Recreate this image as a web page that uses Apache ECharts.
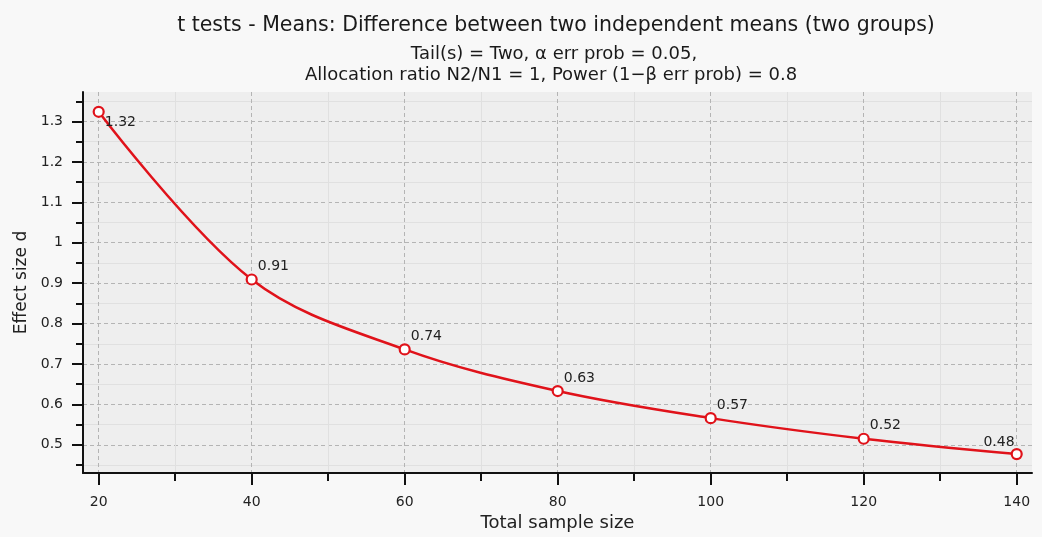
<!DOCTYPE html>
<html>
<head>
<meta charset="utf-8">
<script src="https://cdn.jsdelivr.net/npm/echarts@6/dist/echarts.min.js"></script>
<style>
html,body{margin:0;padding:0;background:#f8f8f8;}
#chart{width:1042px;height:537px;}
</style>
</head>
<body>
<div id="chart"></div>
<script>
const titleText = 't tests - Means: Difference between two independent means (two groups)';
const subtitleLine1 = 'Tail(s) = Two, α err prob = 0.05,';
const subtitleLine2 = 'Allocation ratio N2/N1 = 1, Power (1−β err prob) = 0.8';
const xAxisName = 'Total sample size';
const yAxisName = 'Effect size d';

const sampleSizes = [20, 40, 60, 80, 100, 120, 140];
const effectSizes = [1.324, 0.909, 0.736, 0.633, 0.566, 0.515, 0.477];

const xMajorTicks = [20, 40, 60, 80, 100, 120, 140];
const xMinorTicks = [30, 50, 70, 90, 110, 130];
const yMajorTicks = [0.5, 0.6, 0.7, 0.8, 0.9, 1.0, 1.1, 1.2, 1.3];
const yMinorTicks = [0.45, 0.55, 0.65, 0.75, 0.85, 0.95, 1.05, 1.15, 1.25, 1.35];

const X_MIN = 17.95, X_MAX = 142;
const Y_MIN = 0.43, Y_MAX = 1.373;

const FONT = 'DejaVu Sans';
const RED = '#e0121a';

const chart = echarts.init(document.getElementById('chart'), null, {renderer: 'canvas'});

function labelFor(i) {
  if (i === 0) return {position: 'right', distance: 0, offset: [0, 11]};
  if (i === sampleSizes.length - 1) return {position: 'left', distance: 0, offset: [4, -12]};
  return {position: 'right', distance: 0, offset: [0, -13]};
}

const seriesData = sampleSizes.map((x, i) => ({
  value: [x, effectSizes[i]],
  label: labelFor(i)
}));

const fmtX = v => String(v);
const fmtY = v => {
  const r = Math.round(v * 10) / 10;
  return (r === 1) ? '1' : r.toFixed(1);
};

chart.setOption({
  backgroundColor: '#f8f8f8',
  animation: false,
  title: [
    {text: titleText, left: 556, top: 15, textAlign: 'center', padding: 0,
     textStyle: {fontFamily: FONT, fontSize: 20.5, fontWeight: 'normal', color: '#1a1a1a'}},
    {text: subtitleLine1, left: 554, top: 45, textAlign: 'center', padding: 0,
     textStyle: {fontFamily: FONT, fontSize: 18, fontWeight: 'normal', color: '#1a1a1a'}},
    {text: subtitleLine2, left: 551, top: 66, textAlign: 'center', padding: 0,
     textStyle: {fontFamily: FONT, fontSize: 18, fontWeight: 'normal', color: '#1a1a1a'}}
  ],
  grid: {left: 83, right: 10, top: 92, bottom: 63, show: true, backgroundColor: '#eeeeee', borderWidth: 0},
  xAxis: [
    {
      type: 'value', min: X_MIN, max: X_MAX, position: 'bottom',
      name: xAxisName, nameLocation: 'middle', nameGap: 39,
      nameTextStyle: {fontFamily: FONT, fontSize: 18, color: '#222'},
      axisLine: {show: true, onZero: false, lineStyle: {color: '#111', width: 2}},
      axisTick: {show: true, customValues: xMajorTicks, length: 12, lineStyle: {color: '#111', width: 2}},
      axisLabel: {show: true, customValues: xMajorTicks, formatter: fmtX, margin: 22,
                  fontFamily: FONT, fontSize: 14, color: '#222'},
      splitLine: {show: true, lineStyle: {color: '#b4b4b4', type: [4, 3], width: 1}}
    },
    {
      type: 'value', min: X_MIN, max: X_MAX, position: 'bottom',
      axisLine: {show: false, onZero: false},
      axisTick: {show: true, customValues: xMinorTicks, length: 8, lineStyle: {color: '#111', width: 2}},
      axisLabel: {show: false},
      splitLine: {show: true, lineStyle: {color: '#e0e0e0', width: 1}}
    }
  ],
  yAxis: [
    {
      type: 'value', min: Y_MIN, max: Y_MAX, position: 'left',
      name: yAxisName, nameLocation: 'middle', nameGap: 51,
      nameTextStyle: {fontFamily: FONT, fontSize: 17, color: '#222'},
      axisLine: {show: true, onZero: false, lineStyle: {color: '#111', width: 2}},
      axisTick: {show: true, customValues: yMajorTicks, length: 11, lineStyle: {color: '#111', width: 2}},
      axisLabel: {show: true, customValues: yMajorTicks, formatter: fmtY, margin: 20,
                  fontFamily: FONT, fontSize: 14, color: '#222'},
      splitLine: {show: true, lineStyle: {color: '#b4b4b4', type: [4, 3], width: 1}}
    },
    {
      type: 'value', min: Y_MIN, max: Y_MAX, position: 'left',
      axisLine: {show: false, onZero: false},
      axisTick: {show: true, customValues: yMinorTicks, length: 7, lineStyle: {color: '#111', width: 2}},
      axisLabel: {show: false},
      splitLine: {show: true, lineStyle: {color: '#e0e0e0', width: 1}}
    }
  ],
  series: [{
    type: 'line',
    xAxisIndex: 0, yAxisIndex: 0,
    data: seriesData,
    smooth: 0.35,
    symbol: 'circle',
    symbolSize: 10,
    lineStyle: {color: RED, width: 2.5},
    itemStyle: {color: '#ffffff', borderColor: RED, borderWidth: 2.2},
    label: {show: true, fontFamily: FONT, fontSize: 14, color: '#222',
            formatter: p => p.value[1].toFixed(2)},
    z: 5
  }]
});
</script>
</body>
</html>
